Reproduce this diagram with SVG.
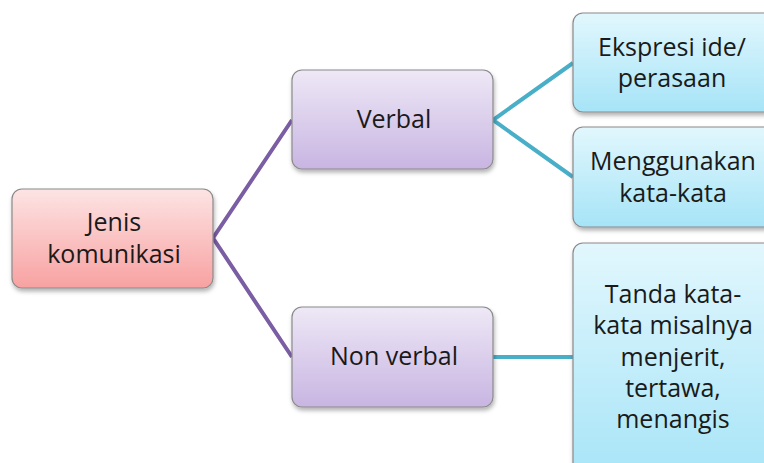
<svg xmlns="http://www.w3.org/2000/svg" width="764" height="463" viewBox="0 0 764 463">
<defs>
<linearGradient id="gRed" x1="0" y1="0" x2="0" y2="1"><stop offset="0" stop-color="#fde4e4"/><stop offset="1" stop-color="#f8a1a1"/></linearGradient>
<linearGradient id="gPur" x1="0" y1="0" x2="0" y2="1"><stop offset="0" stop-color="#eee8f6"/><stop offset="1" stop-color="#c8b5e2"/></linearGradient>
<linearGradient id="gBlu" x1="0" y1="0" x2="0" y2="1"><stop offset="0" stop-color="#e2f7fd"/><stop offset="1" stop-color="#a6e4f7"/></linearGradient>
<filter id="sh" x="-10%" y="-10%" width="130%" height="130%"><feDropShadow dx="1" dy="3" stdDeviation="2" flood-color="#000" flood-opacity="0.3"/></filter>
<style>
.box{stroke:#8a8a8a;stroke-width:1.2;filter:url(#sh)}
text{font-family:"Open Sans","Noto Sans",sans-serif;font-size:25px;fill:#1a1a1a;text-anchor:middle}
.p{stroke:#7b5da3;stroke-width:4;fill:none}
.t{stroke:#49aec8;stroke-width:4;fill:none}
</style>
</defs>
<g id="connectors">
<polyline class="p" points="292,120 213,238 292,357"/>
<polyline class="t" points="573,63 493,120 573,177"/>
<line class="t" x1="493" y1="357" x2="573" y2="357"/>
</g>
<g id="jenis"><rect class="box" x="12" y="189" width="201" height="99" rx="10" fill="url(#gRed)"/><text x="114" y="231">Jenis</text><text x="114" y="263">komunikasi</text></g>
<g id="verbal"><rect class="box" x="292" y="70" width="201" height="99" rx="10" fill="url(#gPur)"/><text x="394" y="128">Verbal</text></g>
<g id="nonverbal"><rect class="box" x="292" y="307" width="201" height="100" rx="10" fill="url(#gPur)"/><text x="394" y="365">Non verbal</text></g>
<g id="ekspresi"><rect class="box" x="573" y="13" width="201" height="99" rx="10" fill="url(#gBlu)"/><text x="672" y="56">Ekspresi ide/</text><text x="672" y="87">perasaan</text></g>
<g id="menggunakan"><rect class="box" x="573" y="127" width="201" height="100" rx="10" fill="url(#gBlu)"/><text x="673" y="170">Menggunakan</text><text x="673" y="202">kata-kata</text></g>
<g id="tanda"><rect class="box" x="573" y="243" width="201" height="240" rx="10" fill="url(#gBlu)"/><text x="673" y="303">Tanda kata-</text><text x="673" y="334">kata misalnya</text><text x="673" y="366">menjerit,</text><text x="673" y="397">tertawa,</text><text x="673" y="428">menangis</text></g>
</svg>
